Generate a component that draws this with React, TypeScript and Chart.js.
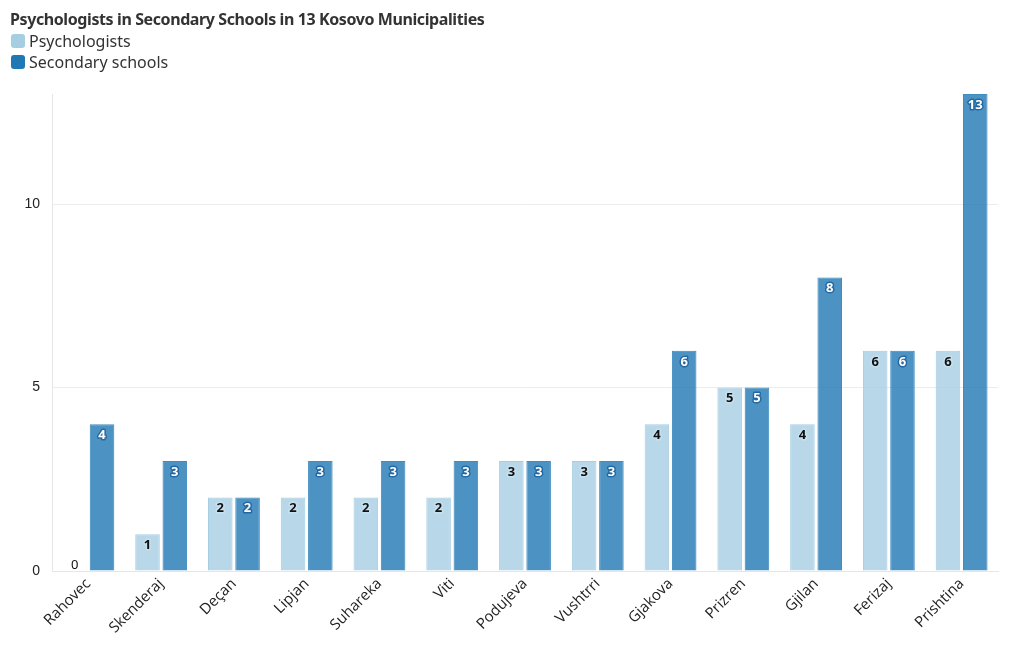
import React, { useEffect, useRef } from "react";
import { Chart, registerables } from "chart.js";

Chart.register(...registerables);

const categories = [
  "Rahovec", "Skenderaj", "Deçan", "Lipjan", "Suhareka", "Viti", "Podujeva",
  "Vushtrri", "Gjakova", "Prizren", "Gjilan", "Ferizaj", "Prishtina",
];
const psychologists = [0, 1, 2, 2, 2, 2, 3, 3, 4, 5, 4, 6, 6];
const secondarySchools = [4, 3, 2, 3, 3, 3, 3, 3, 6, 5, 8, 6, 13];
const yTicks = [0, 5, 10];

const LIGHT = "#a6cee3";
const DARK = "#1f78b4";
const LIGHT_FILL = "rgba(166,206,227,0.8)";
const DARK_FILL = "rgba(31,120,180,0.8)";

const labelPlugin = {
  id: "barLabels",
  afterDatasetsDraw(chart: any) {
    const ctx = chart.ctx;
    ctx.save();
    ctx.textAlign = "center";
    ctx.textBaseline = "middle";
    chart.data.datasets.forEach((ds: any, di: number) => {
      const meta = chart.getDatasetMeta(di);
      meta.data.forEach((bar: any, i: number) => {
        const v = ds.data[i];
        const h = bar.base - bar.y;
        const inside = h >= 20;
        const y = inside ? bar.y + 11 : bar.y - 6;
        const txt = String(v);
        ctx.font = inside ? "bold 13px 'Noto Sans'" : "13px 'Noto Sans'";
        ctx.lineJoin = "round";
        if (di === 1) {
          ctx.lineWidth = 3;
          ctx.strokeStyle = "rgba(31,100,160,0.9)";
          ctx.strokeText(txt, bar.x, y);
          ctx.fillStyle = "#ffffff";
        } else {
          ctx.lineWidth = 3;
          ctx.strokeStyle = "rgba(200,225,238,0.9)";
          if (inside) ctx.strokeText(txt, bar.x, y);
          ctx.fillStyle = "#111111";
        }
        ctx.fillText(txt, bar.x, y);
      });
    });
    ctx.restore();
  },
};

export default function App() {
  const ref = useRef<HTMLCanvasElement | null>(null);
  useEffect(() => {
    if (!ref.current) return;
    const chart = new Chart(ref.current, {
      type: "bar",
      data: {
        labels: categories,
        datasets: [
          {
            label: "Psychologists",
            data: psychologists,
            backgroundColor: LIGHT_FILL,
            borderColor: LIGHT,
            borderWidth: 1,
            categoryPercentage: 0.75,
            barPercentage: 0.9,
          },
          {
            label: "Secondary schools",
            data: secondarySchools,
            backgroundColor: DARK_FILL,
            borderColor: "rgba(31,120,180,0.85)",
            borderWidth: 1,
            categoryPercentage: 0.75,
            barPercentage: 0.9,
          },
        ],
      },
      options: {
        animation: false,
        responsive: false,
        maintainAspectRatio: false,
        layout: { padding: { top: 94, right: 22, left: 0, bottom: 0 } },
        plugins: {
          legend: { display: false },
          title: { display: false },
          tooltip: { enabled: false },
        },
        scales: {
          x: {
            grid: { display: false, drawTicks: false },
            border: { display: true, color: "#e6e6e6" },
            ticks: {
              color: "#222",
              font: { family: "'Open Sans'", size: 15 },
              maxRotation: 45,
              minRotation: 45,
              padding: 4,
              autoSkip: false,
            },
            afterFit(scale: any) {
              scale.height = 650 - 571;
            },
          },
          y: {
            min: 0,
            max: 13,
            afterBuildTicks(scale: any) {
              scale.ticks = yTicks.map((v) => ({ value: v }));
            },
            grid: {
              color: (c: any) => (c.tick && c.tick.value === 0 ? "rgba(0,0,0,0)" : "#ececec"),
              drawTicks: false,
            },
            border: { display: true, color: "#e6e6e6" },
            ticks: {
              color: "#222",
              font: { family: "'Liberation Sans'", size: 14 },
              padding: 12,
            },
            afterFit(scale: any) {
              scale.width = 52;
            },
          },
        },
      },
      plugins: [labelPlugin],
    } as any);
    return () => chart.destroy();
  }, []);

  return (
    <div style={{ position: "absolute", left: 0, top: 0, width: 1020, height: 650, background: "#fff" }}>
      <canvas ref={ref} width={1020} height={650} style={{ position: "absolute", left: 0, top: 0 }} />
      <div
        style={{
          position: "absolute",
          left: 10,
          top: 8,
          fontFamily: "'Noto Sans'",
          fontWeight: 700,
          fontSize: 16,
          color: "#333",
          letterSpacing: -0.4,
          whiteSpace: "nowrap",
          lineHeight: "22px",
        }}
      >
        Psychologists in Secondary Schools in 13 Kosovo Municipalities
      </div>
      {[
        { label: "Psychologists", color: LIGHT, top: 31 },
        { label: "Secondary schools", color: DARK, top: 52 },
      ].map((it) => (
        <div
          key={it.label}
          style={{
            position: "absolute",
            left: 11,
            top: it.top,
            display: "flex",
            alignItems: "center",
            fontFamily: "'Noto Sans'",
            fontSize: 16,
            color: "#333",
            whiteSpace: "nowrap",
          }}
        >
          <span
            style={{
              display: "inline-block",
              width: 14,
              height: 14,
              borderRadius: 3,
              background: it.color,
              marginRight: 4,
            }}
          />
          <span style={{ lineHeight: "20px" }}>{it.label}</span>
        </div>
      ))}
    </div>
  );
}
